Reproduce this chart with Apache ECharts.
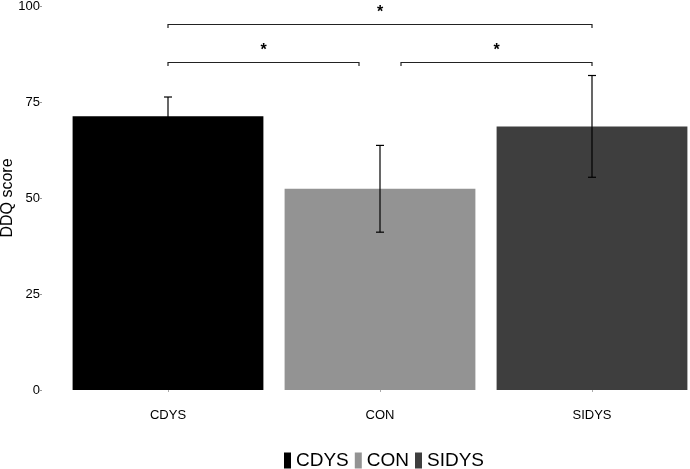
<!DOCTYPE html>
<html lang="en">
<head>
    <meta charset="UTF-8">
    <title>DDQ score</title>
    <script src="https://cdn.jsdelivr.net/npm/echarts@6/dist/echarts.min.js"></script>
    <style>
        html, body { margin: 0; padding: 0; background: #fff; }
    </style>
</head>
<body>
<div id="main" style="width: 690px;height: 469px;"></div>
</body>
    <script type="text/javascript">
        var groups = ['CDYS', 'CON', 'SIDYS'];
        var means = [71.3, 52.4, 68.6];
        var errLow = [66.3, 41.1, 55.4];
        var errHigh = [76.3, 63.7, 81.9];
        var colors = ['#000000', '#939393', '#3e3e3e'];
        var yTicks = [0, 25, 50, 75, 100];
        // significance brackets: from group, to group, height of bracket
        var brackets = [
            ['CDYS', 'SIDYS', 95.3],
            ['CDYS', 'CON', 85.3],
            ['CON', 'SIDYS', 85.3]
        ];

        var myChart = echarts.init(document.getElementById('main'));

        var series = [];
        for (var i = 0; i < groups.length; i++) {
            var d = [];
            for (var j = 0; j < groups.length; j++) {
                d.push(j === i ? means[i] : '-');
            }
            series.push({
                name: groups[i],
                type: 'bar',
                stack: 'bars',
                barCategoryGap: '10%',
                data: d,
                itemStyle: { color: colors[i] },
                z: 2
            });
        }

        var errData = [];
        for (var i = 0; i < groups.length; i++) {
            errData.push([i, errLow[i], errHigh[i]]);
        }
        series.push({
            type: 'custom',
            name: 'err',
            z: 5,
            data: errData,
            renderItem: function (params, api) {
                var lo = api.coord([api.value(0), api.value(1)]);
                var hi = api.coord([api.value(0), api.value(2)]);
                var w = 4;
                var st = { stroke: '#000', lineWidth: 1.2 };
                return {
                    type: 'group',
                    children: [
                        { type: 'line', shape: { x1: hi[0], y1: hi[1], x2: lo[0], y2: lo[1] }, style: st },
                        { type: 'line', shape: { x1: hi[0] - w, y1: hi[1], x2: hi[0] + w, y2: hi[1] }, style: st },
                        { type: 'line', shape: { x1: lo[0] - w, y1: lo[1], x2: lo[0] + w, y2: lo[1] }, style: st }
                    ]
                };
            }
        });

        // an end is pulled in when another bracket at the same height shares it
        function shared(k, h, self) {
            for (var i = 0; i < brackets.length; i++) {
                if (i === self || brackets[i][2] !== h) continue;
                if (groups.indexOf(brackets[i][0]) === k || groups.indexOf(brackets[i][1]) === k) return true;
            }
            return false;
        }

        var brData = [];
        for (var i = 0; i < brackets.length; i++) {
            var a = groups.indexOf(brackets[i][0]);
            var b = groups.indexOf(brackets[i][1]);
            brData.push([a, b, brackets[i][2], shared(a, brackets[i][2], i) ? 1 : 0, shared(b, brackets[i][2], i) ? 1 : 0]);
        }
        series.push({
            type: 'custom',
            name: 'sig',
            z: 5,
            data: brData,
            encode: { x: [0, 1], y: 2 },
            renderItem: function (params, api) {
                var a = api.coord([api.value(0), api.value(2)]);
                var b = api.coord([api.value(1), api.value(2)]);
                var inset = 21;
                var x1 = a[0] + (api.value(3) ? inset : 0);
                var x2 = b[0] - (api.value(4) ? inset : 0);
                var y = Math.round(a[1]) + 0.5;
                var st = { stroke: '#222', lineWidth: 1.2, fill: null };
                return {
                    type: 'group',
                    children: [
                        { type: 'polyline', shape: { points: [[x1, y + 3.5], [x1, y], [x2, y], [x2, y + 3.5]] }, style: st },
                        { type: 'text', x: (x1 + x2) / 2, y: y - 12, style: { text: '*', fill: '#000', font: 'bold 16px "Liberation Sans", Arial, sans-serif', align: 'center', verticalAlign: 'middle' } }
                    ]
                };
            }
        });

        var option = {
            animation: false,
            backgroundColor: '#fff',
            textStyle: { fontFamily: '"Liberation Sans", Arial, sans-serif' },
            grid: { left: 62, right: -8, top: 6, bottom: 79, outerBoundsMode: 'none', containLabel: false },
            legend: {
                data: groups,
                top: 451,
                left: 284,
                itemWidth: 7,
                itemHeight: 16,
                itemGap: 6,
                padding: 0,
                icon: 'rect',
                textStyle: { fontSize: 19, color: '#000' }
            },
            xAxis: {
                type: 'category',
                data: groups,
                offset: 16,
                axisLine: { show: false },
                axisTick: { show: true, alignWithLabel: true, length: 2, lineStyle: { color: '#aaa' } },
                axisLabel: { color: '#000', fontSize: 13, margin: 3 }
            },
            yAxis: {
                type: 'value',
                min: 0,
                max: 100,
                interval: 25,
                offset: 20,
                name: 'DDQ score',
                nameLocation: 'middle',
                nameGap: 26,
                nameMoveOverlap: false,
                nameTextStyle: { color: '#000', fontSize: 16 },
                axisLine: { show: false },
                axisTick: { show: true, length: 2, lineStyle: { color: '#999' } },
                splitLine: { show: false },
                axisLabel: {
                    color: '#000',
                    fontSize: 13,
                    margin: 2,
                    formatter: function (v) { return yTicks.indexOf(v) >= 0 ? String(v) : ''; }
                }
            },
            series: series
        };
        myChart.setOption(option);
    </script>
</html>
